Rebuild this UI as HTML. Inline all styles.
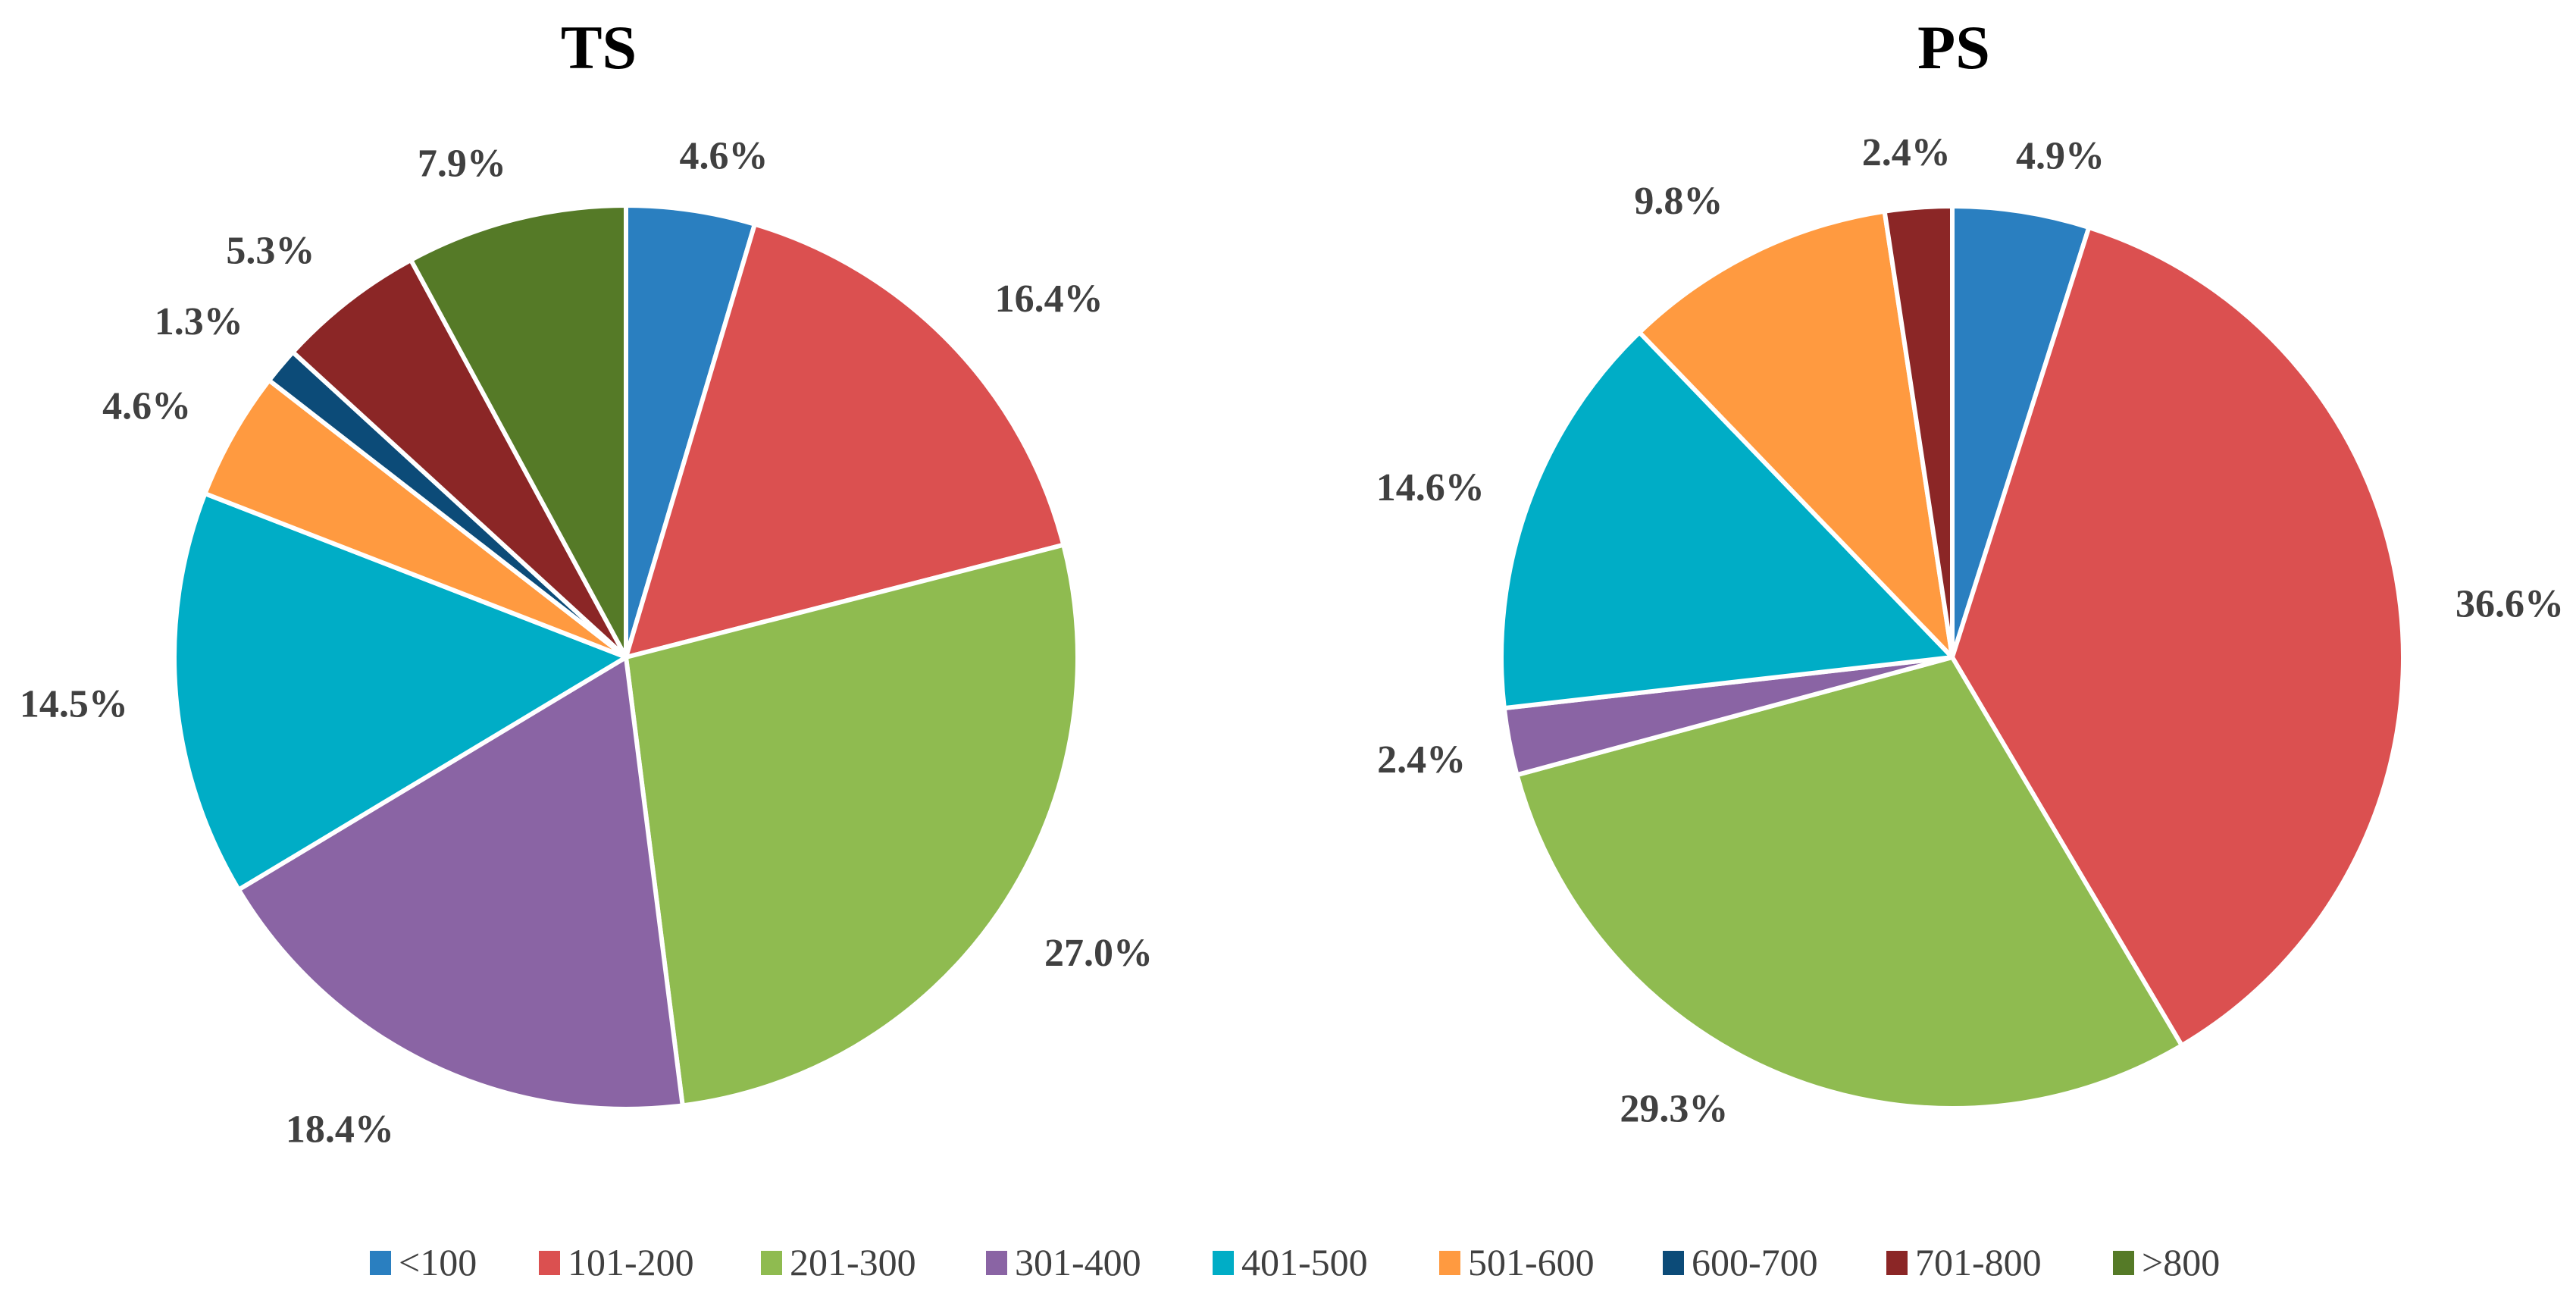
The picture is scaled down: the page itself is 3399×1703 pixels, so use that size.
<!DOCTYPE html>
<html><head><meta charset="utf-8"><style>
html,body{margin:0;padding:0;background:#fff;}
svg{display:block;}
</style></head><body>
<svg id="chart" width="3399" height="1703" viewBox="0 0 3399 1703" xmlns="http://www.w3.org/2000/svg">
<text x="790" y="90" text-anchor="middle" font-family="Liberation Serif, serif" font-weight="bold" font-size="82" fill="#000">TS</text>
<text x="2578" y="90" text-anchor="middle" font-family="Liberation Serif, serif" font-weight="bold" font-size="82" fill="#000">PS</text>
<g id="pies"></g>
<g id="legend"></g>
</svg>
<script>
const categories = ["<100","101-200","201-300","301-400","401-500","501-600","600-700","701-800",">800"];
const colors = ["#2A7FC0","#DB5050","#8FBB50","#8A64A4","#00ADC6","#FF9A40","#0C4B78","#8B2626","#557A27"];
const tsValues = [4.6,16.4,27.0,18.4,14.5,4.6,1.3,5.3,7.9];
const psValues = [4.9,36.6,29.3,2.4,14.6,9.8,0,2.4,0];
const NS="http://www.w3.org/2000/svg";
const pies=document.getElementById('pies');
const tsLabelOffsets=[[26,45],[43,22],[32,-13],[-65,-22],[-16,0],[-10,20],[-17,17],[-29,26],[-41,41]];
const psLabelOffsets=[[33,43],[26,9],[-98,-67],[1,0],[-17,17],[-45,37],[0,0],[-7,45],[0,0]];
function drawPie(name,values,cx,cy,r,offs){
  const total=values.reduce((a,b)=>a+b,0);
  let acc=0;
  values.forEach((v,i)=>{
    if(v<=0){return;}
    const a0=acc/total*2*Math.PI, a1=(acc+v)/total*2*Math.PI; acc+=v;
    const x0=cx+r*Math.sin(a0), y0=cy-r*Math.cos(a0), x1=cx+r*Math.sin(a1), y1=cy-r*Math.cos(a1);
    const p=document.createElementNS(NS,'path');
    p.setAttribute('d',`M${cx},${cy} L${x0},${y0} A${r},${r} 0 ${a1-a0>Math.PI?1:0} 1 ${x1},${y1} Z`);
    p.setAttribute('fill',colors[i]);p.setAttribute('stroke','#fff');p.setAttribute('stroke-width','6');p.setAttribute('stroke-linejoin','round');
    
    
    pies.appendChild(p);
    const am=(a0+a1)/2, lr=r*1.2;
    const t=document.createElementNS(NS,'text');
    t.setAttribute('x',cx+lr*Math.sin(am)+offs[i][0]);t.setAttribute('y',cy-lr*Math.cos(am)+18+offs[i][1]);
    t.setAttribute('text-anchor','middle');t.setAttribute('font-family','Liberation Serif, serif');
    t.setAttribute('font-weight','bold');t.setAttribute('font-size','52');t.setAttribute('fill','#404040');
    t.textContent=v.toFixed(1)+'%';
    
    
    pies.appendChild(t);
  });
}
drawPie('ts',tsValues,826,867,596,tsLabelOffsets);
drawPie('ps',psValues,2576,867,595,psLabelOffsets);
const lg=document.getElementById('legend');
const lx=[488,711,1004,1301,1600,1899,2194,2489,2788];
categories.forEach((c,i)=>{
  const r=document.createElementNS(NS,'rect');
  r.setAttribute('x',lx[i]);r.setAttribute('y',1650);r.setAttribute('width',28);r.setAttribute('height',32);r.setAttribute('fill',colors[i]);
  
  
  lg.appendChild(r);
  const t=document.createElementNS(NS,'text');
  t.setAttribute('x',lx[i]+38);t.setAttribute('y',1682);t.setAttribute('font-family','Liberation Serif, serif');
  t.setAttribute('font-size','50');t.setAttribute('fill','#404040');t.textContent=c;
  
  
  lg.appendChild(t);
});
</script>
</body></html>
